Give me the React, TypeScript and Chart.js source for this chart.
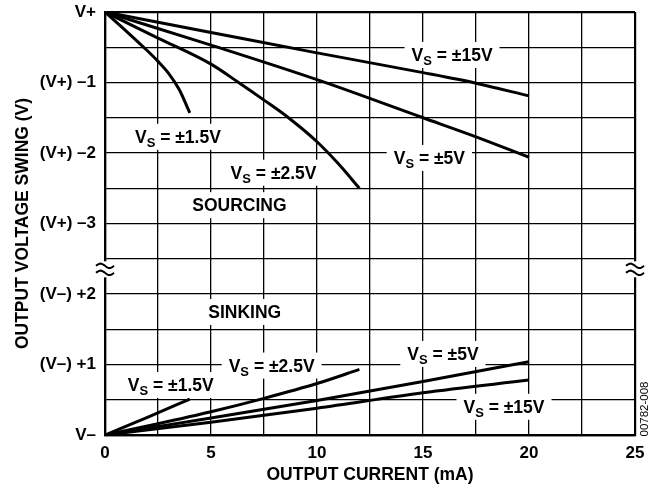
import React, { useEffect, useRef } from "react";
import { Chart, registerables } from "chart.js";

Chart.register(...registerables);

const FONT = '"Liberation Sans", Arial, Helvetica, sans-serif';

// X axis (output current, mA)
const X_MIN = 0;
const X_MAX = 25;
const X_GRID_STEP = 2.5;
const X_TICK_LABELS = [0, 5, 10, 15, 20, 25];

// Y axis positions (volts): 0 = V–, 6 = V+
const Y_MIN = 0;
const Y_MAX = 6;
const Y_GRID_STEP = 0.5;
const Y_TICK_VALUES = [0, 1, 2, 3, 4, 5, 6];
const Y_TICK_TEXT = ["V–", "(V–) +1", "(V–) +2", "(V+) –3", "(V+) –2", "(V+) –1", "V+"];
const Y_BREAK_AT = 2.35;

// Sourcing: voltage drop below V+ (V) vs current (mA)
const SRC_15_I = [0, 5, 10, 15, 17.5, 20];
const SRC_15_DROP = [0, 0.29, 0.58, 0.86, 1.01, 1.19];
const SRC_5_I = [0, 5, 10, 15, 17.5, 20];
const SRC_5_DROP = [0, 0.47, 0.96, 1.5, 1.77, 2.06];
const SRC_2_5_I = [0, 2.5, 5, 6.3, 7.5, 8.7, 10, 11, 12];
const SRC_2_5_DROP = [0, 0.37, 0.74, 1.0, 1.25, 1.51, 1.84, 2.15, 2.5];
const SRC_1_5_I = [0, 1, 2, 2.5, 3, 3.5, 4];
const SRC_1_5_DROP = [0, 0.27, 0.55, 0.7, 0.87, 1.1, 1.43];

// Sinking: voltage rise above V– (V) vs current (mA)
const SNK_1_5_I = [0, 2, 4];
const SNK_1_5_RISE = [0, 0.25, 0.51];
const SNK_2_5_I = [0, 2.5, 5, 7.5, 10, 12];
const SNK_2_5_RISE = [0, 0.16, 0.33, 0.52, 0.73, 0.93];
const SNK_5_I = [0, 5, 10, 15, 20];
const SNK_5_RISE = [0, 0.24, 0.49, 0.76, 1.04];
const SNK_15_I = [0, 5, 10, 15, 20];
const SNK_15_RISE = [0, 0.18, 0.38, 0.6, 0.78];

// Annotations (text, whether it is a V_S label, position in data units)
const LABEL_TEXT = ["±15V", "±5V", "±1.5V", "±2.5V", "SOURCING", "SINKING", "±1.5V", "±2.5V", "±5V", "±15V"];
const LABEL_IS_VS = [true, true, true, true, false, false, true, true, true, true];
const LABEL_X = [16.37, 15.3, 3.44, 7.95, 6.34, 6.59, 3.1, 7.86, 15.94, 18.82];
const LABEL_Y = [5.39, 3.93, 4.23, 3.72, 3.26, 1.745, 0.71, 0.985, 1.15, 0.4];

const SIDE_TEXT = "00782-008";

export default function App() {
  const ref = useRef<HTMLCanvasElement>(null);

  useEffect(() => {
    const canvas = ref.current!;
    const ctx = canvas.getContext("2d")!;

    const src = (I: number[], D: number[]) => I.map((x, i) => ({ x, y: Y_MAX - D[i] }));
    const snk = (I: number[], R: number[]) => I.map((x, i) => ({ x, y: Y_MIN + R[i] }));

    const mk = (data: { x: number; y: number }[]) => ({
      data,
      borderColor: "#000",
      borderWidth: 3,
      pointRadius: 0,
      fill: false,
      cubicInterpolationMode: "monotone" as const,
    });

    const bold = (size: number) => `bold ${size}px ${FONT}`;

    const labelsPlugin = {
      id: "labels",
      beforeDatasetsDraw(chart: any) {
        const c = chart.ctx as CanvasRenderingContext2D;
        const xs = chart.scales.x;
        const ys = chart.scales.y;
        c.save();
        for (let i = 0; i < LABEL_TEXT.length; i++) {
          const cx = xs.getPixelForValue(LABEL_X[i]);
          const cy = ys.getPixelForValue(LABEL_Y[i]);
          const main = 17.5;
          const subSize = 13;
          let parts: { t: string; f: string; dy: number }[];
          if (LABEL_IS_VS[i]) {
            parts = [
              { t: "V", f: bold(main), dy: 0 },
              { t: "S", f: bold(subSize), dy: 4 },
              { t: " = " + LABEL_TEXT[i], f: bold(main), dy: 0 },
            ];
          } else {
            parts = [{ t: LABEL_TEXT[i], f: bold(main), dy: 0 }];
          }
          let total = 0;
          const widths = parts.map((p) => {
            c.font = p.f;
            const w = c.measureText(p.t).width;
            total += w;
            return w;
          });
          const x0 = cx - total / 2;
          c.fillStyle = "#fff";
          c.fillRect(x0 - 7, cy - 13, total + 14, 26);
          c.fillStyle = "#000";
          c.textBaseline = "alphabetic";
          c.textAlign = "left";
          let x = x0;
          parts.forEach((p, k) => {
            c.font = p.f;
            c.fillText(p.t, x, cy + 6 + p.dy);
            x += widths[k];
          });
        }
        c.restore();
      },
      afterDraw(chart: any) {
        const c = chart.ctx as CanvasRenderingContext2D;
        const ys = chart.scales.y;
        const area = chart.chartArea;
        const by = ys.getPixelForValue(Y_BREAK_AT);
        c.save();
        [area.left, area.right].forEach((ax) => {
          c.fillStyle = "#fff";
          c.fillRect(ax - 3, by - 8, 6, 16);
          c.strokeStyle = "#000";
          c.lineWidth = 2;
          [-3.5, 3.5].forEach((off) => {
            c.beginPath();
            const w = 18;
            for (let s = 0; s <= 20; s++) {
              const t = s / 20;
              const px = ax - w / 2 + t * w;
              const py = by + off - 2.2 * Math.sin(2 * Math.PI * t);
              if (s === 0) c.moveTo(px, py);
              else c.lineTo(px, py);
            }
            c.stroke();
          });
        });
        // side reference text
        c.translate(645, 409);
        c.rotate(-Math.PI / 2);
        c.font = `11.5px ${FONT}`;
        c.fillStyle = "#000";
        c.textAlign = "center";
        c.textBaseline = "middle";
        c.fillText(SIDE_TEXT, 0, 0);
        c.restore();
      },
    };

    const edgeW = (v: number, a: number, b: number) => (v === a || v === b ? 2.2 : 1.3);

    const chart = new Chart(ctx, {
      type: "line",
      data: {
        datasets: [
          mk(src(SRC_15_I, SRC_15_DROP)),
          mk(src(SRC_5_I, SRC_5_DROP)),
          mk(src(SRC_2_5_I, SRC_2_5_DROP)),
          mk(src(SRC_1_5_I, SRC_1_5_DROP)),
          mk(snk(SNK_1_5_I, SNK_1_5_RISE)),
          mk(snk(SNK_2_5_I, SNK_2_5_RISE)),
          mk(snk(SNK_5_I, SNK_5_RISE)),
          mk(snk(SNK_15_I, SNK_15_RISE)),
        ],
      },
      options: {
        animation: false,
        responsive: false,
        layout: { padding: { left: 0, right: 26, top: 12, bottom: 0 } },
        plugins: { legend: { display: false }, tooltip: { enabled: false } },
        scales: {
          x: {
            type: "linear",
            min: X_MIN,
            max: X_MAX,
            afterFit: (s: any) => {
              s.height = 53;
              s.paddingLeft = 0;
              s.paddingRight = 0;
            },
            ticks: {
              stepSize: X_GRID_STEP,
              autoSkip: false,
              maxRotation: 0,
              padding: 8,
              color: "#000",
              font: { family: FONT, size: 17, weight: "bold" },
              callback: (v: any) => (X_TICK_LABELS.includes(Number(v)) ? String(v) : ""),
            },
            grid: {
              color: "#000",
              drawTicks: false,
              lineWidth: (c: any) => edgeW(c.tick ? c.tick.value : -1, X_MIN, X_MAX),
            },
            border: { display: true, color: "#000", width: 2.2 },
            title: {
              display: true,
              text: "OUTPUT CURRENT (mA)",
              color: "#000",
              font: { family: FONT, size: 17.5, weight: "bold" },
              padding: { top: 0, bottom: 2 },
            },
          },
          y: {
            type: "linear",
            min: Y_MIN,
            max: Y_MAX,
            afterFit: (s: any) => {
              s.width = 105;
              s.paddingTop = 0;
              s.paddingBottom = 0;
            },
            ticks: {
              stepSize: Y_GRID_STEP,
              autoSkip: false,
              padding: 9,
              color: "#000",
              font: { family: FONT, size: 17, weight: "bold" },
              callback: (v: any) => {
                const idx = Y_TICK_VALUES.indexOf(Number(v));
                return idx >= 0 ? Y_TICK_TEXT[idx] : "";
              },
            },
            grid: {
              color: "#000",
              drawTicks: false,
              lineWidth: (c: any) => edgeW(c.tick ? c.tick.value : -1, Y_MIN, Y_MAX),
            },
            border: { display: true, color: "#000", width: 2.2 },
            title: {
              display: true,
              text: "OUTPUT VOLTAGE SWING (V)",
              color: "#000",
              font: { family: FONT, size: 17.5, weight: "bold" },
              padding: { top: 13, bottom: 0 },
            },
          },
        },
      } as any,
      plugins: [labelsPlugin],
    });

    return () => chart.destroy();
  }, []);

  return (
    <canvas
      ref={ref}
      width={661}
      height={488}
      style={{ position: "absolute", left: 0, top: 0, display: "block", width: 661, height: 488 }}
    />
  );
}
